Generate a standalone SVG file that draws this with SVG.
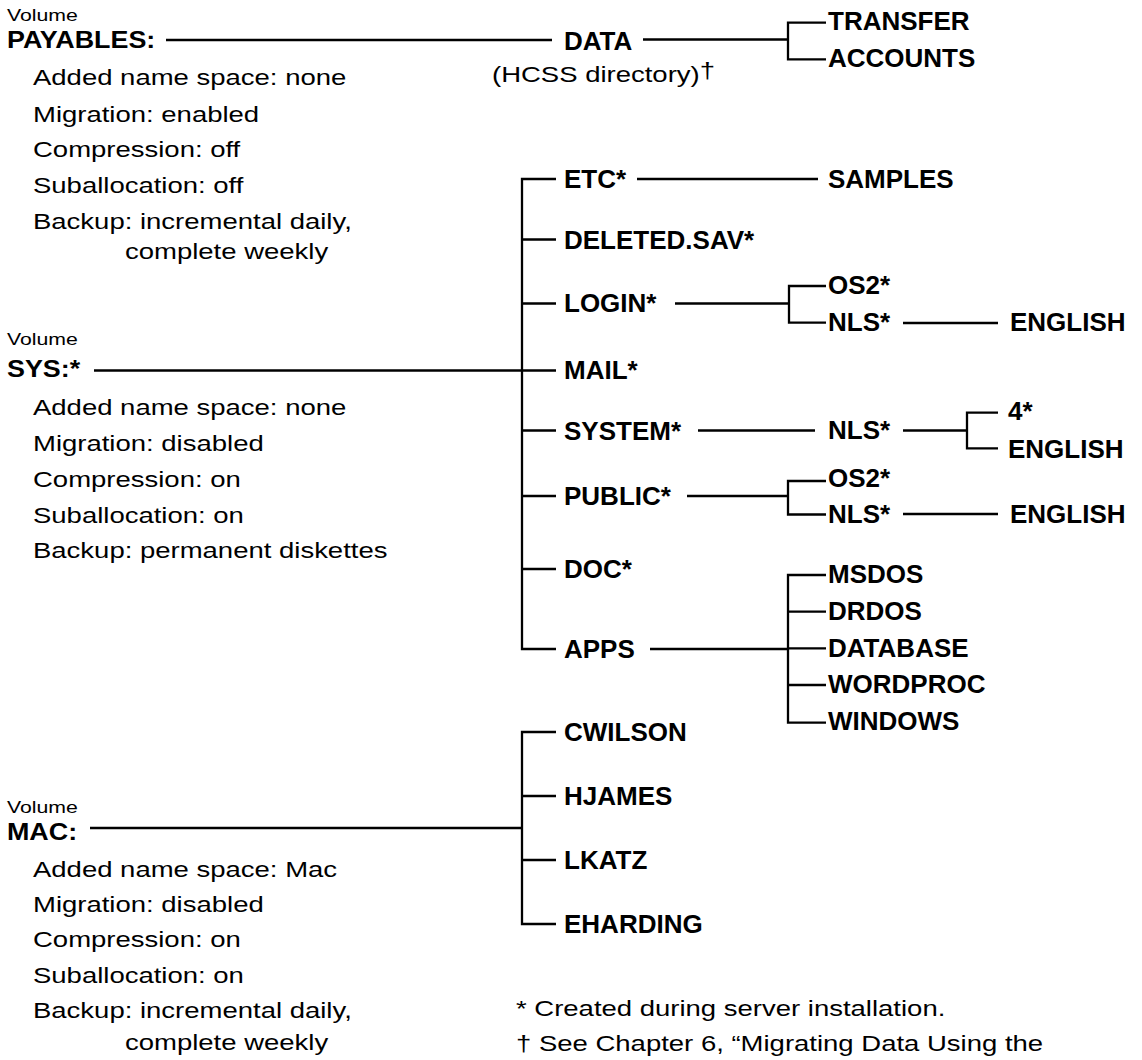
<svg xmlns="http://www.w3.org/2000/svg" width="1142" height="1060" viewBox="0 0 1142 1060">
<style>
text{font-family:"Liberation Sans",Arial,Helvetica,sans-serif;fill:#000}
.b{font-weight:bold;font-size:26px}
.vn{font-weight:bold;font-size:24px}
.r{font-size:22px}
.v{font-size:17px}
.conn{fill:none;stroke:#000;stroke-width:2.3}
</style>
<rect width="1142" height="1060" fill="#fff"/>
<g id="connectors" class="conn">
<path d="M166 40H552"/>
<path d="M643 39.5H788"/>
<path d="M826 22.7H788V59.3H826"/>
<path d="M94 370.5H522"/>
<path d="M556 179H522V649H556"/>
<path d="M522 239.5H556M522 303.5H556M522 370.5H556M522 430.5H556M522 496H556M522 569H556"/>
<path d="M637 179H818"/>
<path d="M675 303.5H789"/>
<path d="M826 286H789V322.7H826"/>
<path d="M903 323H998"/>
<path d="M698 430.5H815"/>
<path d="M903 430.5H967"/>
<path d="M998 412.7H967V448.3H998"/>
<path d="M687 496H788"/>
<path d="M826 481H788V514.5H826"/>
<path d="M903 514H998"/>
<path d="M650 649H788"/>
<path d="M826 575H788V722.7H826M788 611.7H826M788 648.3H826M788 685H826"/>
<path d="M90 828H522"/>
<path d="M556 732H522V924H556M522 796H556M522 860H556"/>
</g>
<g id="vol-payables">
<text class="v" transform="scale(1.25,1)" x="5.6" y="21">Volume</text>
<text class="vn" transform="scale(1.12,1)" x="6.25" y="48">PAYABLES:</text>
<g class="r" transform="scale(1.25,1)">
<text x="26.4" y="85">Added name space: none</text>
<text x="26.4" y="122">Migration: enabled</text>
<text x="26.4" y="157.5">Compression: off</text>
<text x="26.4" y="193">Suballocation: off</text>
<text x="26.4" y="229">Backup: incremental daily,</text>
<text x="100" y="259">complete weekly</text>
</g>
</g>
<g id="vol-sys">
<text class="v" transform="scale(1.25,1)" x="5.6" y="345">Volume</text>
<text class="vn" transform="scale(1.12,1)" x="6.25" y="377">SYS:*</text>
<g class="r" transform="scale(1.25,1)">
<text x="26.4" y="415">Added name space: none</text>
<text x="26.4" y="451.5">Migration: disabled</text>
<text x="26.4" y="487">Compression: on</text>
<text x="26.4" y="523">Suballocation: on</text>
<text x="26.4" y="558.5">Backup: permanent diskettes</text>
</g>
</g>
<g id="vol-mac">
<text class="v" transform="scale(1.25,1)" x="5.6" y="813">Volume</text>
<text class="vn" transform="scale(1.12,1)" x="6.25" y="840">MAC:</text>
<g class="r" transform="scale(1.25,1)">
<text x="26.4" y="877">Added name space: Mac</text>
<text x="26.4" y="912">Migration: disabled</text>
<text x="26.4" y="947">Compression: on</text>
<text x="26.4" y="983">Suballocation: on</text>
<text x="26.4" y="1018">Backup: incremental daily,</text>
<text x="100" y="1050">complete weekly</text>
</g>
</g>
<g id="dir-data">
<text class="b" x="564" y="50">DATA</text>
<text class="r" transform="scale(1.25,1)" x="393.6" y="82">(HCSS directory)<tspan dy="-4">†</tspan></text>
</g>
<g id="dir-transfer"><text class="b" x="828" y="30">TRANSFER</text></g>
<g id="dir-accounts"><text class="b" x="828" y="67">ACCOUNTS</text></g>
<g id="dir-etc"><text class="b" x="564" y="188">ETC*</text></g>
<g id="dir-samples"><text class="b" x="828" y="188">SAMPLES</text></g>
<g id="dir-deleted"><text class="b" x="564" y="249">DELETED.SAV*</text></g>
<g id="dir-login"><text class="b" x="564" y="312">LOGIN*</text></g>
<g id="dir-login-os2"><text class="b" x="828" y="294">OS2*</text></g>
<g id="dir-login-nls"><text class="b" x="828" y="331">NLS*</text></g>
<g id="dir-login-nls-english"><text class="b" x="1010" y="331">ENGLISH</text></g>
<g id="dir-mail"><text class="b" x="564" y="379">MAIL*</text></g>
<g id="dir-system"><text class="b" x="564" y="440">SYSTEM*</text></g>
<g id="dir-system-nls"><text class="b" x="828" y="439">NLS*</text></g>
<g id="dir-system-nls-4"><text class="b" x="1008" y="420">4*</text></g>
<g id="dir-system-nls-english"><text class="b" x="1008" y="458">ENGLISH</text></g>
<g id="dir-public"><text class="b" x="564" y="505">PUBLIC*</text></g>
<g id="dir-public-os2"><text class="b" x="828" y="487">OS2*</text></g>
<g id="dir-public-nls"><text class="b" x="828" y="523">NLS*</text></g>
<g id="dir-public-nls-english"><text class="b" x="1010" y="523">ENGLISH</text></g>
<g id="dir-doc"><text class="b" x="564" y="578">DOC*</text></g>
<g id="dir-apps"><text class="b" x="564" y="658">APPS</text></g>
<g id="dir-msdos"><text class="b" x="828" y="583">MSDOS</text></g>
<g id="dir-drdos"><text class="b" x="828" y="620">DRDOS</text></g>
<g id="dir-database"><text class="b" x="828" y="657">DATABASE</text></g>
<g id="dir-wordproc"><text class="b" x="828" y="693">WORDPROC</text></g>
<g id="dir-windows"><text class="b" x="828" y="730">WINDOWS</text></g>
<g id="dir-cwilson"><text class="b" x="564" y="741">CWILSON</text></g>
<g id="dir-hjames"><text class="b" x="564" y="805">HJAMES</text></g>
<g id="dir-lkatz"><text class="b" x="564" y="869">LKATZ</text></g>
<g id="dir-eharding"><text class="b" x="564" y="933">EHARDING</text></g>
<g id="notes" class="r" transform="scale(1.25,1)">
<text x="412.8" y="1016">* Created during server installation.</text>
<text x="412.8" y="1051">† See Chapter 6, “Migrating Data Using the</text>
</g>
</svg>
